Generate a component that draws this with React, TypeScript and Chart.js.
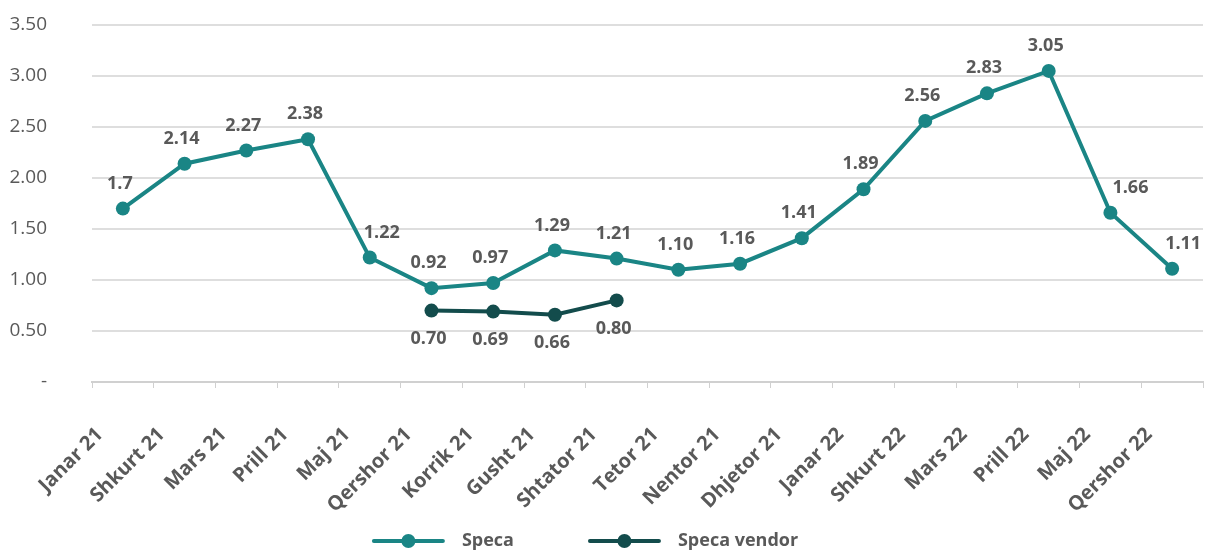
import React, { useEffect, useRef } from 'react';
import { Chart, registerables } from 'chart.js';

Chart.register(...registerables);

const categories = [
  'Janar 21', 'Shkurt 21', 'Mars 21', 'Prill 21', 'Maj 21', 'Qershor 21',
  'Korrik 21', 'Gusht 21', 'Shtator 21', 'Tetor 21', 'Nentor 21', 'Dhjetor 21',
  'Janar 22', 'Shkurt 22', 'Mars 22', 'Prill 22', 'Maj 22', 'Qershor 22',
];
const specaValues = [1.7, 2.14, 2.27, 2.38, 1.22, 0.92, 0.97, 1.29, 1.21, 1.1, 1.16, 1.41, 1.89, 2.56, 2.83, 3.05, 1.66, 1.11];
const specaLabels = ['1.7', '2.14', '2.27', '2.38', '1.22', '0.92', '0.97', '1.29', '1.21', '1.10', '1.16', '1.41', '1.89', '2.56', '2.83', '3.05', '1.66', '1.11'];
const vendorValues = [null, null, null, null, null, 0.7, 0.69, 0.66, 0.8, null, null, null, null, null, null, null, null, null];
const vendorLabels = [null, null, null, null, null, '0.70', '0.69', '0.66', '0.80', null, null, null, null, null, null, null, null, null];
const yTicks = [0, 0.5, 1, 1.5, 2, 2.5, 3, 3.5];
const seriesNames = ['Speca', 'Speca vendor'];

const FONT = '"Open Sans", "Noto Sans", sans-serif';
const TEXT = '#595959';
const SPECA = '#1a8585';
const VENDOR = '#134c4c';

// horizontal nudges of a few data labels (styling only), keyed by point index
const specaLabelNudge: Record<number, number> = { 4: 15, 16: 23, 17: 14 };

const dataLabelPlugin = {
  id: 'dataLabels',
  afterDatasetsDraw(chart: any) {
    const ctx = chart.ctx;
    ctx.save();
    ctx.font = `bold 18px ${FONT}`;
    ctx.fillStyle = TEXT;
    ctx.textAlign = 'center';
    ctx.textBaseline = 'middle';
    chart.data.datasets.forEach((ds: any, i: number) => {
      const meta = chart.getDatasetMeta(i);
      const texts: (string | null)[] = ds.labelTexts;
      const nudge: Record<number, number> = ds.labelNudge || {};
      meta.data.forEach((el: any, j: number) => {
        const t = texts[j];
        if (t == null || ds.data[j] == null) return;
        const dy = ds.labelBelow ? 28 : -25;
        ctx.fillText(t, el.x - 3 + (nudge[j] || 0), el.y + dy);
      });
    });
    ctx.restore();
  },
};

const legendPlugin = {
  id: 'customLegend',
  afterDraw(chart: any) {
    const ctx = chart.ctx;
    const colors = [SPECA, VENDOR];
    ctx.save();
    ctx.font = `bold 18px ${FONT}`;
    ctx.textBaseline = 'middle';
    ctx.textAlign = 'left';
    const lineW = 73;
    const textGap = 17;
    const itemGap = 74;
    const widths = seriesNames.map((n) => ctx.measureText(n).width);
    const total = widths.reduce((a: number, w: number) => a + lineW + textGap + w, 0) + itemGap * (seriesNames.length - 1);
    let x = chart.width / 2 - 20 - total / 2;
    const y = 541;
    seriesNames.forEach((name, i) => {
      ctx.strokeStyle = colors[i];
      ctx.fillStyle = colors[i];
      ctx.lineWidth = 4;
      ctx.lineCap = 'round';
      ctx.beginPath();
      ctx.moveTo(x + 2, y);
      ctx.lineTo(x + lineW - 2, y);
      ctx.stroke();
      ctx.beginPath();
      ctx.arc(x + lineW / 2, y, 7, 0, Math.PI * 2);
      ctx.fill();
      ctx.fillStyle = TEXT;
      ctx.fillText(name, x + lineW + textGap, y);
      x += lineW + textGap + widths[i] + itemGap;
    });
    ctx.restore();
  },
};

export default function App() {
  const ref = useRef<HTMLCanvasElement>(null);
  useEffect(() => {
    const chart = new Chart(ref.current!, {
      type: 'line',
      data: {
        labels: categories,
        datasets: [
          {
            label: seriesNames[0],
            data: specaValues,
            borderColor: SPECA,
            backgroundColor: SPECA,
            borderWidth: 4,
            pointRadius: 7,
            pointHoverRadius: 7,
            pointBackgroundColor: SPECA,
            pointBorderWidth: 0,
            tension: 0,
            labelTexts: specaLabels,
            labelNudge: specaLabelNudge,
            labelBelow: false,
          } as any,
          {
            label: seriesNames[1],
            data: vendorValues,
            borderColor: VENDOR,
            backgroundColor: VENDOR,
            borderWidth: 4,
            pointRadius: 7,
            pointHoverRadius: 7,
            pointBackgroundColor: VENDOR,
            pointBorderWidth: 0,
            tension: 0,
            spanGaps: false,
            labelTexts: vendorLabels,
            labelBelow: true,
          } as any,
        ],
      },
      options: {
        responsive: false,
        animation: false,
        layout: { padding: { left: 8, right: 0, top: 25, bottom: 0 } },
        scales: {
          x: {
            offset: true,
            grid: {
              offset: true,
              drawOnChartArea: false,
              drawTicks: true,
              tickLength: 6,
              color: '#d0d0d0',
              lineWidth: 1,
            },
            border: { display: true, color: '#d0d0d0', width: 2 },
            ticks: {
              autoSkip: false,
              maxRotation: 45,
              minRotation: 45,
              labelOffset: -23,
              padding: 35,
              color: TEXT,
              font: { family: FONT, size: 20, weight: 'bold' as any },
            },
            afterFit(scale: any) {
              scale.height = 169;
              scale.paddingLeft = 0;
              scale.paddingRight = 0;
            },
          },
          y: {
            min: 0,
            max: 3.5,
            afterBuildTicks(scale: any) {
              scale.ticks = yTicks.map((v) => ({ value: v }));
            },
            grid: {
              drawTicks: false,
              color: (c: any) => (c.tick && c.tick.value === 0 ? 'rgba(0,0,0,0)' : '#dedede'),
              lineWidth: 2,
            },
            border: { display: false },
            ticks: {
              padding: 45,
              color: TEXT,
              font: { family: FONT, size: 19 },
              callback: (v: any) => (Number(v) === 0 ? '-' : Number(v).toFixed(2)),
            },
            afterFit(scale: any) {
              scale.width = 84;
              scale.paddingTop = 0;
              scale.paddingBottom = 0;
            },
          },
        },
        plugins: {
          tooltip: { enabled: false },
          legend: { display: false },
        },
      },
      plugins: [dataLabelPlugin, legendPlugin],
    });
    return () => chart.destroy();
  }, []);
  return (
    <div style={{ position: 'fixed', left: 0, top: 0, width: 1210, height: 551, background: '#fff' }}>
      <canvas ref={ref} width={1210} height={551} />
    </div>
  );
}
